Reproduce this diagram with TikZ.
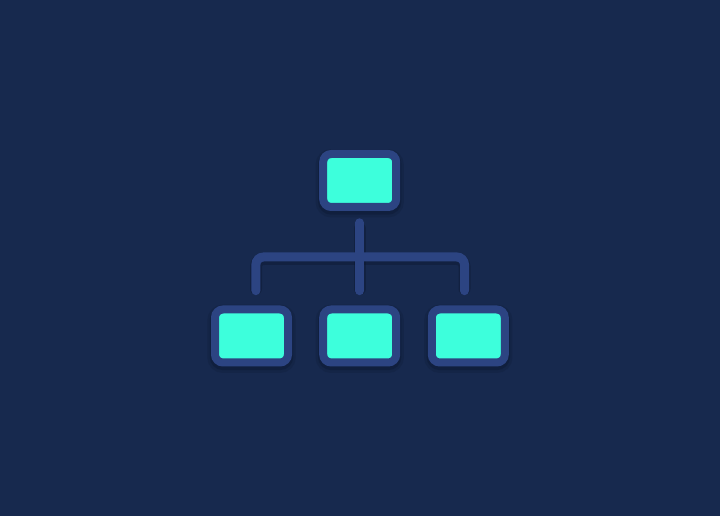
\documentclass[tikz,border=0pt]{standalone}
\usetikzlibrary{shadows}

\definecolor{bgnavy}{RGB}{23,41,78}
\definecolor{framblue}{RGB}{44,68,130}
\definecolor{screenaqua}{RGB}{61,255,220}
\definecolor{shadenavy}{RGB}{10,20,42}

\tikzset{
  unitbox/.style={draw=framblue, fill=screenaqua, line width=0.2cm,
    rounded corners=0.2cm, minimum width=1.825cm, minimum height=1.325cm,
    inner sep=0pt, outer sep=0pt,
    drop shadow={shadow xshift=0cm, shadow yshift=-0.07cm, opacity=0.18,
      fill=shadenavy, draw=shadenavy, line width=0.38cm},
    drop shadow={shadow xshift=0cm, shadow yshift=-0.06cm, opacity=0.3,
      fill=shadenavy, draw=shadenavy, line width=0.26cm}},
  link/.style={draw=framblue, line width=0.225cm, line cap=round,
    rounded corners=0.19cm},
  linkshade/.style={draw=shadenavy, opacity=0.35, line width=0.3cm,
    line cap=round, rounded corners=0.19cm}
}

\begin{document}
\begin{tikzpicture}
            \useasboundingbox (0,0) rectangle (18.000000,12.900000);
            \fill [bgnavy] (0,0) rectangle (18.000000,12.900000);%

            % Fork point of the tree
            \coordinate (fork) at (8.992500,6.475000);%

            % Shadow of the connectors
            \draw [linkshade] (8.992500,7.180000) -- (8.992500,5.680000);%
            \draw [linkshade] (6.400000,5.680000) |- (8.992500,6.425000) -| (11.612500,5.680000);%

            % Drawing top box
            \node [unitbox] (head) at (8.992500,8.387500) {};%

            % Drawing bottom boxes
            \node [unitbox] (leftbox) at (6.287500,4.500000) {};%
            \node [unitbox] (midbox) at (8.992500,4.500000) {};%
            \node [unitbox] (rightbox) at (11.707500,4.500000) {};%

            % Drawing stem
            \draw [link] ([yshift=-0.395cm]head.south) -- ([yshift=0.47cm]midbox.north);%

            % Drawing branches
            \draw [link] ([xshift=0.11cm,yshift=0.47cm]leftbox.north) |- (fork)
              -| ([xshift=-0.095cm,yshift=0.47cm]rightbox.north);%
        \end{tikzpicture}
\end{document}
